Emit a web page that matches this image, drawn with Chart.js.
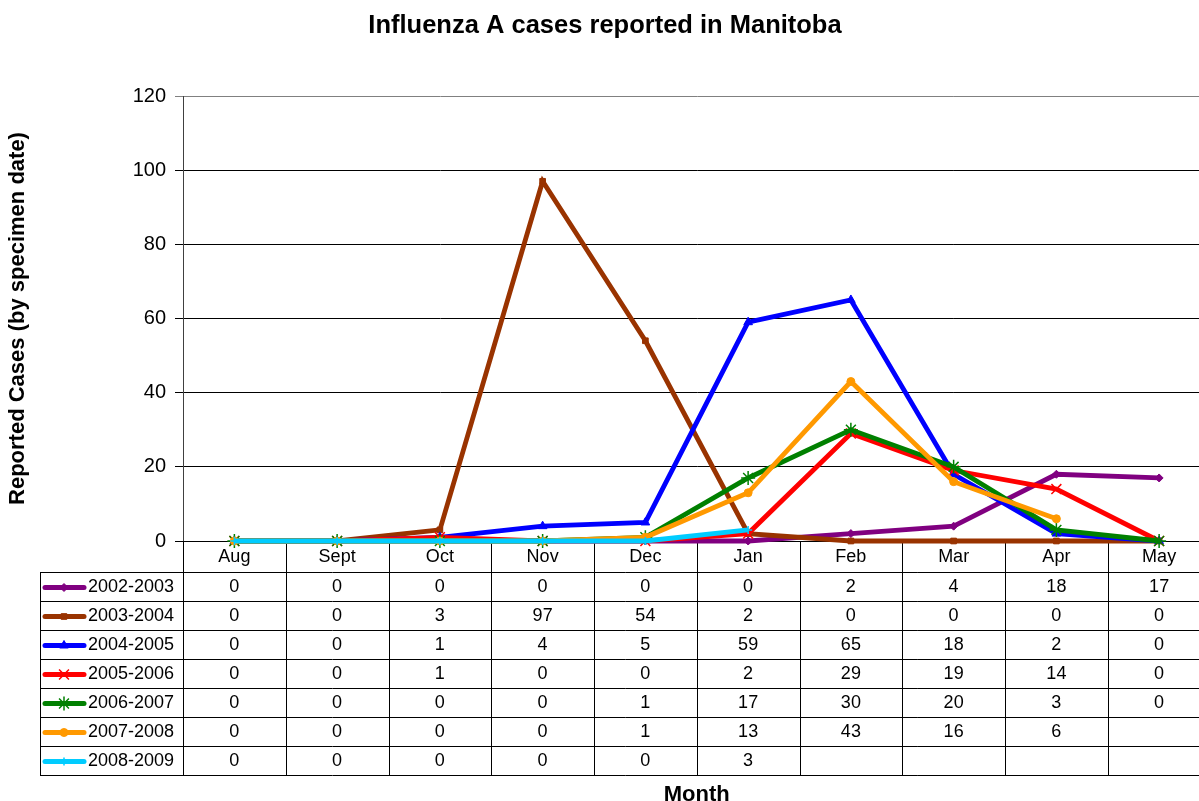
<!DOCTYPE html>
<html><head><meta charset="utf-8">
<script src="https://cdn.jsdelivr.net/npm/chart.js@4.4.1/dist/chart.umd.min.js"></script>
<style>html,body{margin:0;padding:0;overflow:hidden;background:#fff}</style>
</head><body>
<canvas id="c" width="1219" height="801"></canvas>
<script>
const months = ['Aug','Sept','Oct','Nov','Dec','Jan','Feb','Mar','Apr','May'];
const seasons = ['2002-2003','2003-2004','2004-2005','2005-2006','2006-2007','2007-2008','2008-2009'];
const s2002 = [0,0,0,0,0,0,2,4,18,17];
const s2003 = [0,0,3,97,54,2,0,0,0,0];
const s2004 = [0,0,1,4,5,59,65,18,2,0];
const s2005 = [0,0,1,0,0,2,29,19,14,0];
const s2006 = [0,0,0,0,1,17,30,20,3,0];
const s2007 = [0,0,0,0,1,13,43,16,6,null];
const s2008 = [0,0,0,0,0,3,null,null,null,null];
const yTicks = [0,20,40,60,80,100,120];
const chartTitle = 'Influenza A cases reported in Manitoba';

const seriesValues = [s2002,s2003,s2004,s2005,s2006,s2007,s2008];
const colors = ['#800080','#993300','#0000FF','#FF0000','#008000','#FF9900','#00CCFF'];
const markers = ['rectRot','rect','triangle','crossRot','star','circle','cross'];
const radii = [4,4,5,7,7,4,4];
const pbw = [1,1,1,1.5,1.5,1,1.5];
const FONT = "'Liberation Sans', Arial, sans-serif";

const datasets = seriesValues.map((v,i)=>({
  label: seasons[i], data: v, borderColor: colors[i], backgroundColor: colors[i],
  borderWidth: 4.8, pointStyle: markers[i], pointRadius: radii[i],
  pointBackgroundColor: colors[i], pointBorderColor: colors[i], pointBorderWidth: pbw[i],
  tension: 0, spanGaps: false, order: -i, clip: false
}));

const tablePlugin = {
  id: 'dataTable',
  beforeDatasetsDraw(chart){
    const ctx = chart.ctx, xs = chart.scales.x, area = chart.chartArea;
    const n = months.length;
    const step = xs.getPixelForValue(1) - xs.getPixelForValue(0);
    const left = area.left, right = left + step*n;
    const top = area.bottom, headH = 31, rowH = 29, legL = 40;
    const rowsTop = top + headH;
    const bottom = rowsTop + rowH*seasons.length;
    ctx.save();
    ctx.fillStyle = '#000'; ctx.font = 'bold 25.5px ' + FONT;
    ctx.textAlign = 'center'; ctx.textBaseline = 'middle';
    ctx.fillText(chartTitle, 605, 26);
    ctx.strokeStyle = '#000'; ctx.lineWidth = 1;
    for (let k=0;k<=n;k++){
      const x = Math.round(left + step*k) + 0.5;
      ctx.beginPath(); ctx.moveTo(x, top); ctx.lineTo(x, bottom); ctx.stroke();
    }
    ctx.beginPath(); ctx.moveTo(legL+0.5, rowsTop); ctx.lineTo(legL+0.5, bottom); ctx.stroke();
    for (let r=0;r<=seasons.length;r++){
      const y = Math.round(rowsTop + rowH*r) + 0.5;
      ctx.beginPath(); ctx.moveTo(legL, y); ctx.lineTo(right, y); ctx.stroke();
    }
    ctx.fillStyle = '#000'; ctx.font = '18px ' + FONT;
    ctx.textAlign = 'center'; ctx.textBaseline = 'middle';
    months.forEach((m,k)=>{ ctx.fillText(m, xs.getPixelForValue(k), top + headH/2 + 1); });
    seasons.forEach((s,r)=>{
      const cy = rowsTop + rowH*r + rowH/2 + 1;
      ctx.strokeStyle = colors[r]; ctx.lineWidth = 5; ctx.lineCap = 'round';
      ctx.beginPath(); ctx.moveTo(45, cy); ctx.lineTo(84, cy); ctx.stroke();
      ctx.lineCap = 'butt';
      ctx.fillStyle = colors[r]; ctx.strokeStyle = colors[r]; ctx.lineWidth = pbw[r];
      Chart.helpers.drawPoint(ctx, {pointStyle: markers[r], radius: radii[r], borderWidth: pbw[r], rotation: 0}, 64, cy);
      ctx.fillStyle = '#000';
      ctx.textAlign = 'left';
      ctx.fillText(s, 88, cy);
      ctx.textAlign = 'center';
      seriesValues[r].forEach((v,k)=>{
        if (v !== null && v !== undefined) ctx.fillText(String(v), xs.getPixelForValue(k), cy);
      });
    });
    ctx.restore();
  }
};

new Chart(document.getElementById('c'), {
  type: 'line',
  data: { labels: months, datasets },
  options: {
    responsive: false, animation: false, devicePixelRatio: 1,
    layout: { padding: { top: 96, left: 0, right: 0, bottom: 0 } },
    plugins: {
      legend: { display: false }, tooltip: { enabled: false }, title: { display: false }
    },
    scales: {
      x: {
        offset: true,
        grid: { display: false }, border: { display: false },
        ticks: { display: false },
        title: { display: true, text: 'Month', color: '#000',
          font: { family: FONT, size: 22, weight: 'bold', lineHeight: 1 }, padding: { top: 0, bottom: -5 } },
        afterFit(s){ s.height = 260; }
      },
      y: {
        min: 0, max: 120,
        afterBuildTicks(s){ s.ticks = yTicks.map(v=>({value:v})); },
        grid: { color: c => (c.tick && c.tick.value === 120) ? '#808080' : '#000', lineWidth: 1, tickLength: 8 },
        border: { display: true, color: '#404040', width: 1 },
        ticks: { color: '#000', font: { family: FONT, size: 20 }, padding: 9 },
        title: { display: true, text: 'Reported Cases (by specimen date)', color: '#000',
          font: { family: FONT, size: 22, weight: 'bold', lineHeight: 1 }, padding: { top: 7, bottom: 0 } },
        afterFit(s){ s.width = 183; }
      }
    }
  },
  plugins: [tablePlugin]
});
</script>
</body></html>
